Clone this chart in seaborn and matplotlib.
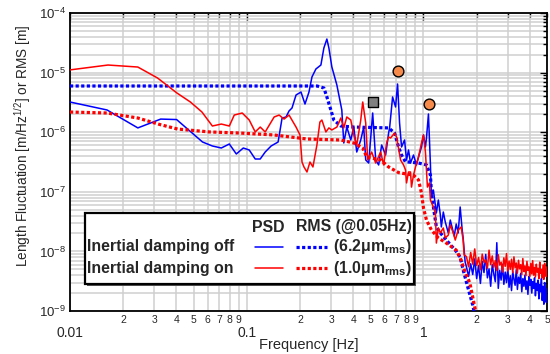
import numpy as np
import pandas as pd
import matplotlib
matplotlib.use("Agg")
import matplotlib.pyplot as plt
import seaborn as sns
from matplotlib.ticker import FixedLocator, FixedFormatter, LogLocator, NullFormatter
from matplotlib.patches import Rectangle
from matplotlib.lines import Line2D

# ---------------- data ----------------
f_off = [0.0100, 0.0162, 0.0242, 0.0326, 0.0401, 0.0562, 0.0639, 0.0718, 0.0797, 0.0873,
         0.0956, 0.1033, 0.1117, 0.1192, 0.1272, 0.1374, 0.1505, 0.1585, 0.1669, 0.1735,
         0.1804, 0.1901, 0.2028, 0.2136, 0.2250, 0.2339, 0.2463, 0.2628, 0.2732, 0.2841,
         0.2916, 0.3032, 0.3236, 0.3451, 0.3541, 0.3683, 0.3879, 0.4033, 0.4193, 0.4417,
         0.4592, 0.4712, 0.4899, 0.5160, 0.5366, 0.5578, 0.5800, 0.6108, 0.6350, 0.6433,
         0.6688, 0.6953, 0.7136, 0.7324, 0.7516, 0.7815, 0.8020, 0.8231, 0.8447, 0.8782,
         0.9132, 0.9372, 0.9744, 1.000, 1.026, 1.040, 1.067, 1.095, 1.109, 1.138,
         1.168, 1.183, 1.214, 1.246, 1.262, 1.295, 1.329, 1.382, 1.418, 1.455,
         1.493, 1.532, 1.572, 1.613, 1.656, 1.677, 1.721]
psd_off = [3.21e-6, 2.36e-6, 1.18e-6, 1.66e-6, 1.63e-6, 6.85e-7, 5.87e-7, 5.43e-7, 6.34e-7, 4.31e-7,
           5.43e-7, 5.03e-7, 3.55e-7, 3.55e-7, 4.65e-7, 5.87e-7, 6.85e-7, 1.73e-6, 1.80e-6, 2.27e-6,
           2.55e-6, 4.21e-6, 4.72e-6, 2.97e-6, 4.72e-6, 8.44e-6, 1.15e-5, 1.34e-5, 2.59e-5, 3.66e-5,
           2.59e-5, 1.24e-5, 6.19e-6, 2.36e-6, 6.59e-7, 1.22e-6, 7.40e-7, 1.22e-6, 4.65e-7, 7.40e-7,
           1.22e-6, 3.42e-7, 3.04e-7, 2.10e-6, 3.42e-7, 2.82e-7, 6.10e-7, 4.14e-7, 9.70e-7, 1.18e-6,
           3.90e-6, 2.65e-6, 6.44e-6, 1.43e-6, 5.65e-7, 7.40e-7, 3.42e-7, 5.03e-7, 3.04e-7, 4.14e-7,
           2.82e-7, 3.83e-7, 5.65e-7, 8.98e-7, 5.65e-7, 8.00e-7, 2.02e-6, 2.82e-7, 8.18e-8, 1.07e-7,
           6.01e-8, 4.41e-8, 7.28e-8, 4.08e-8, 2.57e-8, 4.58e-8, 3.11e-8, 2.04e-8, 3.36e-8, 2.47e-8,
           1.81e-8, 2.88e-8, 2.04e-8, 5.56e-8, 2.29e-8, 1.68e-8, 6.64e-9]

f_on = [0.0100, 0.0164, 0.0242, 0.0313, 0.0403, 0.0480, 0.0558, 0.0639, 0.0718, 0.0797,
        0.0850, 0.0943, 0.1033, 0.1117, 0.1192, 0.1272, 0.1429, 0.1525, 0.1626, 0.1735,
        0.1901, 0.2002, 0.2055, 0.2108, 0.2192, 0.2279, 0.2369, 0.2495, 0.2594, 0.2662,
        0.2804, 0.2916, 0.3032, 0.3236, 0.3406, 0.3541, 0.3683, 0.3879, 0.4033, 0.4193,
        0.4417, 0.4532, 0.4712, 0.4836, 0.5093, 0.5366, 0.5725, 0.5952, 0.6188, 0.6350,
        0.6517, 0.6863, 0.7044, 0.7420, 0.7714, 0.7917, 0.8020, 0.8231, 0.8447, 0.8557,
        0.8782, 0.9014, 0.9372, 0.9744, 1.000, 1.026, 1.053, 1.081, 1.095, 1.138,
        1.168, 1.183, 1.214, 1.246, 1.295, 1.329, 1.382, 1.418, 1.474, 1.513,
        1.572, 1.634, 1.677, 1.699]
psd_on = [1.11e-5, 1.34e-5, 1.24e-5, 8.11e-6, 4.54e-6, 3.21e-6, 2.18e-6, 1.27e-6, 1.37e-6, 1.27e-6,
          1.94e-6, 2.10e-6, 1.60e-6, 1.01e-6, 1.22e-6, 1.01e-6, 1.80e-6, 1.94e-6, 1.66e-6, 1.94e-6,
          1.22e-6, 8.98e-7, 3.16e-7, 2.61e-7, 2.15e-7, 3.16e-7, 2.61e-7, 6.10e-7, 1.48e-6, 1.60e-6,
          1.01e-6, 1.18e-6, 1.09e-6, 1.22e-6, 1.73e-6, 1.18e-6, 1.80e-6, 1.60e-6, 8.98e-7, 6.10e-7,
          1.60e-6, 3.21e-6, 1.43e-6, 3.42e-7, 4.65e-7, 3.04e-7, 4.65e-7, 2.82e-7, 6.59e-7, 8.30e-7,
          8.00e-7, 9.70e-7, 8.30e-7, 3.42e-7, 2.82e-7, 2.32e-7, 1.41e-7, 2.15e-7, 2.15e-7, 1.20e-7,
          1.91e-7, 2.61e-7, 3.83e-7, 6.59e-7, 8.98e-7, 4.65e-7, 1.20e-7, 1.41e-7, 7.28e-8, 5.56e-8,
          4.41e-8, 1.38e-8, 2.47e-8, 2.04e-8, 2.47e-8, 1.68e-8, 1.88e-8, 2.77e-8, 2.04e-8, 1.55e-8,
          2.29e-8, 2.57e-8, 1.55e-8, 8.70e-9]

# high-frequency part, shared frequency bins
f_hi = [1.75, 1.80, 1.85, 1.90, 1.95, 2.00, 2.05, 2.10, 2.15, 2.20, 2.25, 2.30, 2.35, 2.40,
        2.45, 2.50, 2.55, 2.60, 2.65, 2.70, 2.75, 2.80, 2.85, 2.90, 2.95, 3.00, 3.05, 3.10,
        3.15, 3.20, 3.25, 3.30, 3.35, 3.40, 3.45, 3.50, 3.55, 3.60, 3.65, 3.70, 3.75, 3.80,
        3.85, 3.90, 3.95, 4.00, 4.05, 4.10, 4.15, 4.20, 4.25, 4.30, 4.35, 4.40, 4.45, 4.50,
        4.55, 4.60, 4.65, 4.70, 4.75, 4.80, 4.85, 4.90, 4.95, 5.00]
psd_off_hi = [5.5e-9, 3.8e-9, 6.2e-9, 4.1e-9, 7.5e-9, 3.5e-9, 5.8e-9, 2.9e-9, 6.8e-9, 4.4e-9,
              8.9e-9, 3.6e-9, 5.1e-9, 2.6e-9, 6.0e-9, 4.2e-9, 3.1e-9, 1.4e-8, 2.4e-9, 4.8e-9,
              3.3e-9, 6.1e-9, 2.8e-9, 4.5e-9, 3.0e-9, 5.2e-9, 2.5e-9, 3.9e-9, 2.2e-9, 4.6e-9,
              3.4e-9, 2.7e-9, 4.9e-9, 2.3e-9, 3.7e-9, 2.9e-9, 4.3e-9, 2.1e-9, 3.5e-9, 2.6e-9,
              4.0e-9, 2.3e-9, 3.2e-9, 1.9e-9, 3.8e-9, 2.7e-9, 3.4e-9, 2.0e-9, 3.1e-9, 2.4e-9,
              3.6e-9, 1.8e-9, 2.9e-9, 2.2e-9, 3.3e-9, 1.6e-9, 2.8e-9, 2.1e-9, 3.5e-9, 1.5e-9,
              2.6e-9, 1.3e-9, 3.0e-9, 1.8e-9, 1.4e-9, 2.4e-9]
psd_on_hi = [8.2e-9, 5.5e-9, 9.6e-9, 6.1e-9, 1.1e-8, 5.8e-9, 7.9e-9, 4.9e-9, 9.0e-9, 6.5e-9,
             7.2e-9, 5.2e-9, 1.05e-8, 6.0e-9, 8.4e-9, 5.4e-9, 7.0e-9, 4.8e-9, 8.8e-9, 5.9e-9,
             6.6e-9, 4.5e-9, 7.8e-9, 5.6e-9, 9.2e-9, 4.7e-9, 6.9e-9, 5.0e-9, 7.4e-9, 4.4e-9,
             8.1e-9, 5.3e-9, 6.4e-9, 4.3e-9, 7.1e-9, 5.1e-9, 6.0e-9, 4.1e-9, 7.6e-9, 4.6e-9,
             5.7e-9, 3.9e-9, 6.8e-9, 4.8e-9, 5.5e-9, 3.8e-9, 6.3e-9, 4.2e-9, 7.0e-9, 4.0e-9,
             5.4e-9, 3.7e-9, 6.1e-9, 4.5e-9, 5.2e-9, 3.5e-9, 6.6e-9, 4.3e-9, 5.0e-9, 3.6e-9,
             5.9e-9, 3.4e-9, 6.3e-9, 4.1e-9, 3.8e-9, 5.5e-9]

f_rms_off = [0.0100, 0.2500, 0.2732, 0.2841, 0.2992, 0.3111, 0.3406, 0.4033, 0.5093, 0.6350,
             0.6863, 0.7229, 0.7516, 0.7917, 0.8231, 0.9372, 1.040, 1.095, 1.109, 1.138,
             1.183, 1.246, 1.347, 1.513, 1.613, 1.677, 1.780, 1.900, 1.980]
rms_off = [5.96e-6, 5.96e-6, 5.52e-6, 3.90e-6, 2.36e-6, 1.60e-6, 1.27e-6, 1.22e-6, 1.20e-6, 1.18e-6,
           9.70e-7, 5.65e-7, 4.14e-7, 3.16e-7, 3.16e-7, 3.04e-7, 2.82e-7, 1.91e-7, 9.55e-8, 5.56e-8,
           2.57e-8, 2.04e-8, 1.55e-8, 1.05e-8, 8.05e-9, 4.88e-9, 2.53e-9, 1.26e-9, 7.0e-10]

f_rms_on = [0.0100, 0.0162, 0.0242, 0.0321, 0.0406, 0.0615, 0.0907, 0.1429, 0.2192, 0.3406,
            0.4033, 0.4532, 0.4775, 0.5725, 0.6350, 0.7229, 0.7917, 0.8782, 0.9372, 0.9744,
            1.000, 1.040, 1.109, 1.214, 1.347, 1.532, 1.613, 1.721, 1.830, 1.950, 2.000]
rms_on = [2.18e-6, 2.10e-6, 1.73e-6, 1.35e-6, 1.13e-6, 1.01e-6, 9.70e-7, 8.98e-7, 7.69e-7, 7.40e-7,
          6.59e-7, 5.43e-7, 3.83e-7, 3.42e-7, 2.61e-7, 2.10e-7, 2.00e-7, 1.91e-7, 1.58e-7, 9.55e-8,
          5.35e-8, 3.36e-8, 2.29e-8, 1.68e-8, 1.38e-8, 1.05e-8, 7.75e-9, 4.51e-9, 2.95e-9, 1.17e-9,
          8.0e-10]

peak_sq_f = [0.516]
peak_sq_v = [3.21e-6]
peak_circ_f = [0.7136, 1.081]
peak_circ_v = [1.06e-5, 2.97e-6]

x_major_ticks = [0.01, 0.1, 1]
x_major_labels = ["0.01", "0.1", "1"]
x_minor_digits = ["2", "3", "4", "5", "6", "7", "8", "9"]
legend_rows = ["Inertial damping off", "Inertial damping on"]
legend_rms = ["(6.2μm$_{\\mathbf{rms}}$)", "(1.0μm$_{\\mathbf{rms}}$)"]

# ---------------- style ----------------
sns.set_style("white")
plt.rcParams["font.family"] = ["Liberation Sans", "DejaVu Sans"]
plt.rcParams["mathtext.fontset"] = "custom"
plt.rcParams["mathtext.rm"] = "Liberation Sans"
plt.rcParams["mathtext.it"] = "Liberation Sans:italic"
plt.rcParams["mathtext.bf"] = "Liberation Sans:bold"

BLUE = "#0000ff"
RED = "#ff0000"

fig = plt.figure(figsize=(5.5, 3.54), dpi=100)
ax = fig.add_axes([70 / 550, 1 - 311 / 354, 477 / 550, 298 / 354])

off_df = pd.DataFrame({"f": f_off + f_hi, "v": psd_off + psd_off_hi})
on_df = pd.DataFrame({"f": f_on + f_hi, "v": psd_on + psd_on_hi})
rms_off_df = pd.DataFrame({"f": f_rms_off, "v": rms_off})
rms_on_df = pd.DataFrame({"f": f_rms_on, "v": rms_on})

dot = (0, (1.0, 0.75))
sns.lineplot(data=off_df, x="f", y="v", ax=ax, color=BLUE, lw=1.1, estimator=None, zorder=3)
sns.lineplot(data=rms_off_df, x="f", y="v", ax=ax, color=BLUE, lw=2.3, linestyle=dot,
             estimator=None, zorder=4)
sns.lineplot(data=on_df, x="f", y="v", ax=ax, color=RED, lw=1.1, estimator=None, zorder=5)
sns.lineplot(data=rms_on_df, x="f", y="v", ax=ax, color=RED, lw=2.3, linestyle=dot,
             estimator=None, zorder=6)

sns.scatterplot(x=peak_sq_f, y=peak_sq_v, ax=ax, marker="s", s=60, color="#808080",
                edgecolor="black", linewidth=1.0, zorder=8)
sns.scatterplot(x=peak_circ_f, y=peak_circ_v, ax=ax, marker="o", s=60, color="#f58a4b",
                edgecolor="black", linewidth=1.0, zorder=8)

ax.set_xscale("log")
ax.set_yscale("log")
ax.set_xlim(0.01, 5)
ax.set_ylim(1e-9, 1e-4)

# x ticks
ax.xaxis.set_major_locator(FixedLocator(x_major_ticks))
ax.xaxis.set_major_formatter(FixedFormatter(x_major_labels))
minor_pos, minor_lab = [], []
for dec in [0.01, 0.1, 1]:
    for d in x_minor_digits:
        p = int(d) * dec
        if p <= 5.0001:
            minor_pos.append(p)
            minor_lab.append(d)
ax.xaxis.set_minor_locator(FixedLocator(minor_pos))
ax.xaxis.set_minor_formatter(FixedFormatter(minor_lab))

ax.yaxis.set_major_locator(LogLocator(base=10, numticks=10))
ax.yaxis.set_minor_locator(LogLocator(base=10, subs=np.arange(2, 10), numticks=20))
ax.yaxis.set_minor_formatter(NullFormatter())

ax.tick_params(axis="both", which="both", direction="in", top=True, right=True,
               color="black", width=1.0)
ax.tick_params(axis="both", which="major", length=5)
ax.tick_params(axis="both", which="minor", length=3)
ax.tick_params(axis="x", which="major", labelsize=10, pad=10.5)
ax.tick_params(axis="x", which="minor", labelsize=7.5, pad=3)
ax.tick_params(axis="y", which="major", labelsize=9.5, pad=3)

ax.grid(True, which="both", color="#cfcfcf", lw=1.1)
ax.set_axisbelow(True)
for sp in ax.spines.values():
    sp.set_color("black")
    sp.set_linewidth(1.3)

ax.set_xlabel("Frequency [Hz]", fontsize=10.5)
ax.set_ylabel("Length Fluctuation [m/Hz$^{1/2}$] or RMS [m]", fontsize=9.8)
ax.yaxis.set_label_coords(-0.078, 0.555)
ax.xaxis.set_label_coords(0.5, -0.09)

# ---------------- legend box ----------------
def axx(px):
    return (px - 70) / 477.0

def axy(py):
    return (311 - py) / 298.0

x0, x1, y0, y1 = axx(85), axx(414), axy(284), axy(213)
shadow = Rectangle((x0 + 0.004, y0 - 0.007), x1 - x0, y1 - y0, transform=ax.transAxes,
                   facecolor="#555555", edgecolor="none", zorder=9)
box = Rectangle((x0, y0), x1 - x0, y1 - y0, transform=ax.transAxes, facecolor="white",
                edgecolor="black", lw=1.6, zorder=10)
ax.add_patch(shadow)
ax.add_patch(box)

fs = 11.4
ax.text(axx(268.5), axy(227), "PSD", transform=ax.transAxes, ha="center", va="center",
        fontsize=fs, fontweight="bold", zorder=11)
ax.text(axx(412), axy(227), "RMS (@0.05Hz)", transform=ax.transAxes, ha="right", va="center",
        fontsize=fs, fontweight="bold", zorder=11)
row_y = [axy(247), axy(268)]
row_col = [BLUE, RED]
for label, rms_lab, yy, c in zip(legend_rows, legend_rms, row_y, row_col):
    ax.text(axx(87), yy, label, transform=ax.transAxes, ha="left", va="center",
            fontsize=fs, fontweight="bold", zorder=11)
    ax.text(axx(412), yy, rms_lab, transform=ax.transAxes, ha="right", va="center",
            fontsize=fs, fontweight="bold", zorder=11)
    ax.add_line(Line2D([axx(255), axx(283)], [yy, yy], transform=ax.transAxes, color=c,
                       lw=1.1, zorder=11))
    ax.add_line(Line2D([axx(296), axx(327)], [yy, yy], transform=ax.transAxes, color=c,
                       lw=2.3, linestyle=dot, zorder=11))

fig.savefig("out.png", dpi=100)
